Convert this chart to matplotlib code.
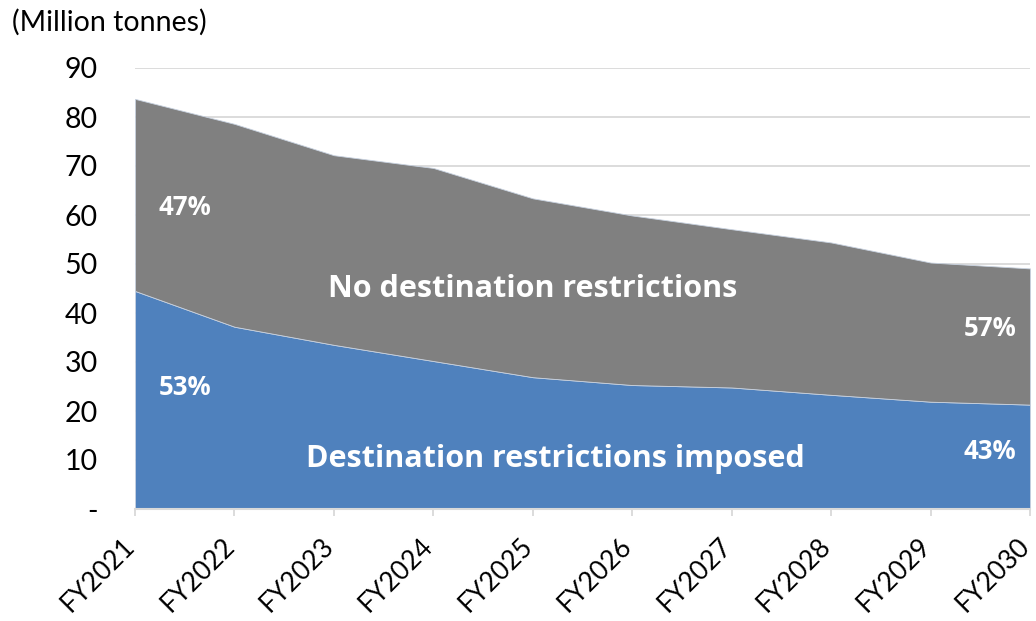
import matplotlib
matplotlib.use("Agg")
import matplotlib.pyplot as plt
import matplotlib.transforms as mtransforms
import numpy as np

years = ["FY2021", "FY2022", "FY2023", "FY2024", "FY2025",
         "FY2026", "FY2027", "FY2028", "FY2029", "FY2030"]
restricted = [44.5, 37.2, 33.5, 30.2, 26.9, 25.3, 24.8, 23.3, 21.9, 21.3]
total = [83.7, 78.6, 72.2, 69.6, 63.4, 59.9, 57.1, 54.4, 50.3, 49.1]
unrestricted = [t - r for t, r in zip(total, restricted)]
yticks = [0, 10, 20, 30, 40, 50, 60, 70, 80, 90]
ytick_labels = ["-", "10", "20", "30", "40", "50", "60", "70", "80", "90"]

plt.rcParams['font.family'] = ['Lato', 'DejaVu Sans']

fig = plt.figure(figsize=(10.36, 6.21), dpi=100)
ax = fig.add_axes([135/1036, 1-509/621, (1030-135)/1036, (509-68)/621])

x = np.arange(len(years))
ax.stackplot(x, restricted, unrestricted, colors=["#4f81bd", "#808080"],
             edgecolor="#c8d2e0", linewidth=0.6, zorder=2)

ax.set_xlim(0, len(years) - 1)
ax.set_ylim(0, 90)
ax.set_yticks(yticks)
ax.set_yticklabels(ytick_labels, fontsize=20.5)
ax.yaxis.grid(True, color="#d9d9d9", linewidth=1.3, zorder=0)
ax.set_axisbelow(True)
ax.tick_params(axis='y', length=0, pad=27)

ax.set_xticks(x)
ax.set_xticklabels(years, rotation=45, ha='right', va='center',
                   rotation_mode='anchor', fontsize=19)
ax.tick_params(axis='x', length=5, width=1.3, color="#d9d9d9", pad=19)
offset = mtransforms.ScaledTranslation(-4/100, 0, fig.dpi_scale_trans)
for lbl in ax.get_xticklabels():
    lbl.set_transform(lbl.get_transform() + offset)

for s in ["top", "right", "left"]:
    ax.spines[s].set_visible(False)
ax.spines["bottom"].set_color("#d9d9d9")
ax.spines["bottom"].set_linewidth(1.5)
ax.spines["bottom"].set_zorder(3)

fig.text(12/1036, 1-22/621, "(Million tonnes)", fontsize=20.5, ha='left', va='center')

bold = ['Open Sans', 'DejaVu Sans']
tk = dict(color="white", fontweight="bold", ha="center", va="center", family=bold)
ax.text(0.5, 61.5, "47%", fontsize=18.5, **tk)
ax.text(0.5, 24.8, "53%", fontsize=18.5, **tk)
ax.text(8.6, 36.8, "57%", fontsize=18.5, **tk)
ax.text(8.6, 11.8, "43%", fontsize=18.5, **tk)
ax.text(4.0, 44.8, "No destination restrictions", fontsize=22, **tk)
ax.text(4.23, 10.2, "Destination restrictions imposed", fontsize=22, **tk)

fig.savefig("out.png", dpi=100)
